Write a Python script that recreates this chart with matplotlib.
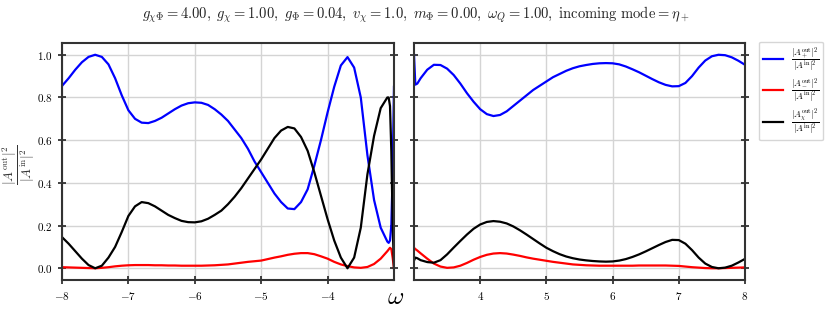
import numpy as np
import matplotlib
matplotlib.use("Agg")
import matplotlib.pyplot as plt

plt.rcParams['font.family'] = 'serif'
plt.rcParams['font.serif'] = ['cmr10', 'DejaVu Serif']
plt.rcParams['mathtext.fontset'] = 'cm'
plt.rcParams['axes.formatter.use_mathtext'] = True

# ---- data ----
omega_left = [-8.0, -7.9, -7.8, -7.7, -7.6, -7.5, -7.4, -7.3, -7.2, -7.1,
              -7.0, -6.9, -6.8, -6.7, -6.6, -6.5, -6.4, -6.3, -6.2, -6.1,
              -6.0, -5.9, -5.8, -5.7, -5.6, -5.5, -5.4, -5.3, -5.2, -5.1,
              -5.0, -4.9, -4.8, -4.7, -4.6, -4.5, -4.4, -4.3, -4.2, -4.1,
              -4.0, -3.9, -3.8, -3.7, -3.6, -3.5, -3.4, -3.3, -3.2, -3.1,
              -3.08, -3.06, -3.04, -3.02, -3.0]
plus_left = [0.854, 0.89, 0.93, 0.965, 0.99, 1.0, 0.99, 0.955, 0.89, 0.81,
             0.74, 0.70, 0.682, 0.68, 0.69, 0.705, 0.725, 0.745, 0.762, 0.773,
             0.777, 0.775, 0.765, 0.745, 0.72, 0.69, 0.65, 0.61, 0.56, 0.50,
             0.45, 0.40, 0.35, 0.31, 0.28, 0.277, 0.31, 0.37, 0.48, 0.60,
             0.73, 0.85, 0.95, 0.989, 0.94, 0.80, 0.53, 0.32, 0.19, 0.125,
             0.119, 0.13, 0.2, 0.45, 0.85]
minus_left = [0.005, 0.004, 0.003, 0.002, 0.001, 0.0, 0.002, 0.005, 0.009, 0.012,
              0.014, 0.015, 0.015, 0.015, 0.014, 0.014, 0.013, 0.013, 0.012, 0.012,
              0.012, 0.012, 0.013, 0.014, 0.016, 0.018, 0.022, 0.026, 0.03, 0.033,
              0.036, 0.043, 0.05, 0.056, 0.063, 0.068, 0.071, 0.071, 0.066, 0.056,
              0.045, 0.03, 0.018, 0.01, 0.004, 0.002, 0.006, 0.02, 0.045, 0.08,
              0.088, 0.096, 0.09, 0.05, 0.0]
chi_left = [0.146, 0.115, 0.08, 0.045, 0.015, 0.0, 0.012, 0.05, 0.10, 0.17,
            0.245, 0.29, 0.31, 0.305, 0.29, 0.27, 0.25, 0.235, 0.222, 0.216,
            0.215, 0.22, 0.232, 0.25, 0.27, 0.30, 0.335, 0.375, 0.42, 0.465,
            0.51, 0.56, 0.61, 0.645, 0.662, 0.655, 0.615, 0.55, 0.45, 0.34,
            0.23, 0.13, 0.05, 0.0, 0.05, 0.19, 0.44, 0.62, 0.75, 0.80,
            0.80, 0.76, 0.55, 0.2, 0.0]

omega_right = [3.0, 3.02, 3.05, 3.1, 3.2, 3.3, 3.4, 3.5, 3.6, 3.7, 3.8, 3.9, 4.0,
               4.1, 4.2, 4.3, 4.4, 4.5, 4.6, 4.7, 4.8, 4.9, 5.0,
               5.1, 5.2, 5.3, 5.4, 5.5, 5.6, 5.7, 5.8, 5.9, 6.0,
               6.1, 6.2, 6.3, 6.4, 6.5, 6.6, 6.7, 6.8, 6.9, 7.0,
               7.1, 7.2, 7.3, 7.4, 7.5, 7.6, 7.7, 7.8, 7.9, 8.0]
plus_right = [1.0, 0.86, 0.865, 0.89, 0.93, 0.953, 0.952, 0.935, 0.905, 0.865, 0.82, 0.78, 0.745,
              0.722, 0.713, 0.718, 0.735, 0.76, 0.785, 0.81, 0.835, 0.855, 0.875,
              0.895, 0.91, 0.925, 0.937, 0.946, 0.952, 0.957, 0.96, 0.961, 0.96,
              0.955, 0.945, 0.932, 0.918, 0.902, 0.886, 0.871, 0.859, 0.852, 0.853,
              0.868, 0.9, 0.94, 0.973, 0.993, 1.0, 0.998, 0.988, 0.972, 0.953]
minus_right = [0.096, 0.09, 0.083, 0.07, 0.045, 0.022, 0.008, 0.002, 0.004, 0.012, 0.025, 0.04, 0.053,
               0.063, 0.069, 0.071, 0.069, 0.064, 0.058, 0.051, 0.045, 0.04, 0.035,
               0.03, 0.026, 0.022, 0.018, 0.016, 0.014, 0.013, 0.012, 0.012, 0.012,
               0.012, 0.012, 0.012, 0.013, 0.013, 0.013, 0.013, 0.013, 0.012, 0.011,
               0.008, 0.005, 0.003, 0.001, 0.0, 0.0, 0.001, 0.002, 0.003, 0.004]
chi_right = [0.036, 0.05, 0.047, 0.038, 0.029, 0.026, 0.038, 0.065, 0.097, 0.128, 0.158, 0.185, 0.205,
             0.217, 0.221, 0.218, 0.21, 0.196, 0.178, 0.158, 0.137, 0.116, 0.096,
             0.08, 0.066, 0.055, 0.047, 0.041, 0.037, 0.034, 0.032, 0.031, 0.032,
             0.036, 0.043, 0.053, 0.065, 0.079, 0.094, 0.109, 0.123, 0.133, 0.132,
             0.115, 0.085, 0.05, 0.022, 0.006, 0.0, 0.003, 0.012, 0.027, 0.044]

xticks_left = [-8, -7, -6, -5, -4]
xticks_right = [4, 5, 6, 7, 8]
yticks = [0.0, 0.2, 0.4, 0.6, 0.8, 1.0]

labels = [r"$\dfrac{|A_+^{\rm out}|^2}{|A^{\rm in}|^2}$",
          r"$\dfrac{|A_-^{\rm out}|^2}{|A^{\rm in}|^2}$",
          r"$\dfrac{|A_\chi^{\rm out}|^2}{|A^{\rm in}|^2}$"]
colors = ["blue", "red", "black"]

fig = plt.figure(figsize=(8.31, 3.22), dpi=100)
ax1 = fig.add_axes([0.0746, 0.1304, 0.3995, 0.736])
ax2 = fig.add_axes([0.4982, 0.1304, 0.3983, 0.736])

panels = [(ax1, omega_left, [plus_left, minus_left, chi_left], xticks_left, (-8, -3)),
          (ax2, omega_right, [plus_right, minus_right, chi_right], xticks_right, (3, 8))]

for ax, om, series, xt, xl in panels:
    for ys, c, lab in zip(series, colors, labels):
        ax.plot(om, ys, color=c, lw=1.6, label=lab)
    ax.set_xlim(*xl)
    ax.set_ylim(-0.055, 1.055)
    ax.set_xticks(xt)
    ax.set_yticks(yticks)
    ax.grid(True, color="#d4d4d4", lw=1.0)
    ax.set_axisbelow(True)
    for sp in ax.spines.values():
        sp.set_color("#333333")
        sp.set_linewidth(1.5)
    ax.tick_params(direction="inout", length=6, width=1.2, color="#222222",
                   labelsize=8, left=True, right=True, bottom=True, top=False)
    ax.tick_params(axis="x", pad=4)

ax2.tick_params(labelleft=False)

fig.text(0.022, 0.49, r"$\dfrac{|A^{\rm out}|^2}{|A^{\rm in}|^2}$", rotation=90,
         fontsize=9.5, ha="center", va="center", color="#333333")

fig.text(0.476, 0.075, r"$\omega$", fontsize=18, ha="center", va="center")
fig.text(0.50, 0.955,
         r"$g_{\chi\Phi} = 4.00,\ g_{\chi} = 1.00,\ g_{\Phi} = 0.04,\ v_{\chi} = 1.0,\ "
         r"m_{\Phi} = 0.00,\ \omega_Q = 1.00,\ \mathrm{incoming\ mode} = \eta_+$",
         fontsize=10.5, ha="center", va="center", color="#222222")

handles, labs = ax1.get_legend_handles_labels()
leg = fig.legend(handles, labs, loc="upper left", bbox_to_anchor=(0.908, 0.885),
                 fontsize=6.5, frameon=True, handlelength=2.3, borderpad=0.4,
                 labelspacing=0.3, handletextpad=0.8)
leg.get_frame().set_edgecolor("#cccccc")

fig.savefig("out.png", dpi=100)
